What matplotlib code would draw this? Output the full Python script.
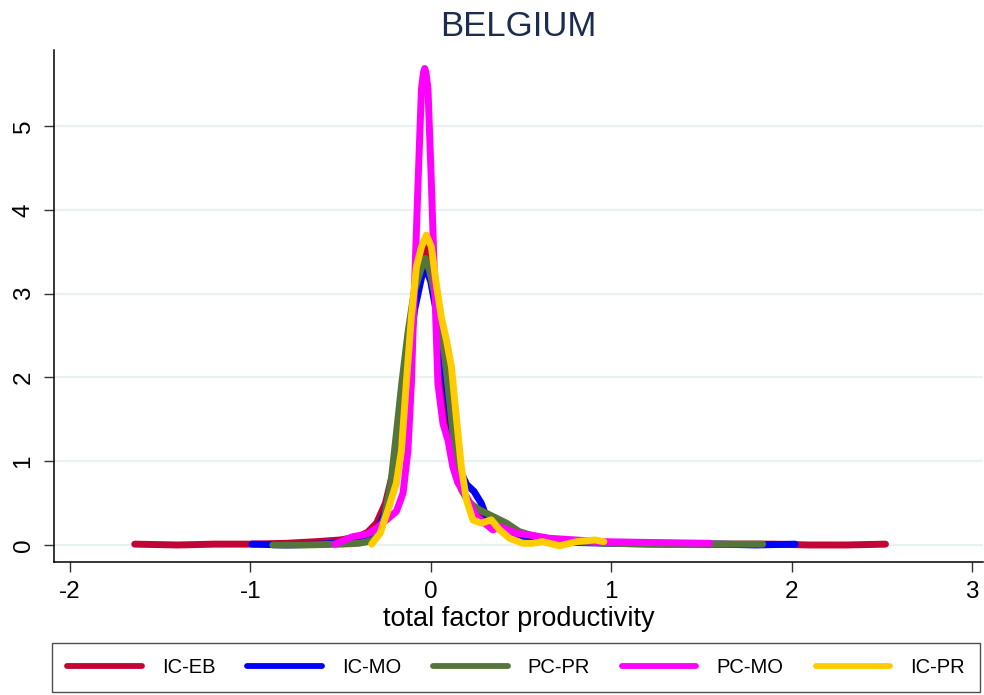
import matplotlib
matplotlib.use("Agg")
import matplotlib.pyplot as plt

plt.rcParams['font.family'] = ['Liberation Sans', 'DejaVu Sans']

# kernel density curves (x = tfp, y = density)
ic_eb_x = [-1.64, -1.4, -1.2, -1.0, -0.8, -0.63, -0.5, -0.4, -0.35, -0.3, -0.25, -0.2, -0.16, -0.12,
           -0.09, -0.05, -0.025, 0.0, 0.03, 0.06, 0.09, 0.12, 0.15, 0.2, 0.25, 0.3, 0.35, 0.42, 0.5,
           0.6, 0.8, 1.0, 1.3, 1.6, 1.9, 2.1, 2.3, 2.52]
ic_eb_y = [0.01, 0.0, 0.01, 0.01, 0.02, 0.04, 0.06, 0.1, 0.15, 0.26, 0.5, 0.95, 1.55, 2.2,
           2.85, 3.4, 3.6, 3.45, 2.95, 2.0, 1.45, 1.1, 0.8, 0.55, 0.42, 0.3, 0.24, 0.16, 0.11,
           0.07, 0.04, 0.03, 0.02, 0.01, 0.01, 0.0, 0.0, 0.01]

ic_mo_x = [-0.99, -0.8, -0.6, -0.45, -0.35, -0.3, -0.25, -0.2, -0.16, -0.12, -0.09, -0.05, -0.03,
           0.0, 0.03, 0.06, 0.09, 0.12, 0.15, 0.2, 0.24, 0.28, 0.31, 0.35, 0.42, 0.5, 0.6, 0.8,
           1.0, 1.3, 1.6, 1.8, 2.02]
ic_mo_y = [0.01, 0.0, 0.01, 0.03, 0.06, 0.15, 0.4, 0.9, 1.5, 2.2, 2.8, 3.2, 3.32,
           3.15, 2.8, 2.35, 1.85, 1.35, 0.95, 0.72, 0.64, 0.5, 0.33, 0.24, 0.16, 0.1, 0.06, 0.03,
           0.02, 0.01, 0.01, 0.0, 0.01]

pc_pr_x = [-0.875, -0.7, -0.5, -0.4, -0.35, -0.32, -0.28, -0.255, -0.22, -0.19, -0.16, -0.126,
           -0.09, -0.05, -0.03, -0.006, 0.022, 0.05, 0.078, 0.105, 0.133, 0.17, 0.216, 0.27,
           0.345, 0.42, 0.49, 0.55, 0.65, 0.8, 1.0, 1.2, 1.5, 1.84]
pc_pr_y = [0.0, 0.0, 0.01, 0.02, 0.04, 0.06, 0.18, 0.34, 0.74, 1.33, 1.93, 2.53,
           3.04, 3.32, 3.42, 3.28, 3.0, 2.65, 2.25, 1.73, 1.13, 0.66, 0.5, 0.42,
           0.34, 0.26, 0.16, 0.12, 0.07, 0.04, 0.02, 0.01, 0.01, 0.01]

pc_mo_x = [-0.53, -0.43, -0.35, -0.3, -0.19, -0.153, -0.126, -0.107, -0.089, -0.07, -0.051, -0.04,
           -0.033, -0.026, -0.015, 0.004, 0.022, 0.04, 0.068, 0.096, 0.123, 0.151, 0.198, 0.253,
           0.345, 0.382, 0.474, 0.548, 0.66, 0.94, 1.21, 1.545]
pc_mo_y = [0.01, 0.1, 0.13, 0.2, 0.4, 0.62, 1.13, 1.93, 3.12, 4.32, 5.45, 5.64,
           5.69, 5.64, 5.45, 4.32, 3.12, 1.93, 1.45, 1.25, 0.93, 0.74, 0.58, 0.34,
           0.18, 0.22, 0.14, 0.12, 0.08, 0.04, 0.03, 0.02]

ic_pr_x = [-0.327, -0.28, -0.236, -0.19, -0.162, -0.135, -0.107, -0.079, -0.051, -0.024, 0.004,
           0.031, 0.059, 0.087, 0.115, 0.142, 0.17, 0.198, 0.234, 0.28, 0.336, 0.382, 0.437,
           0.511, 0.565, 0.62, 0.714, 0.81, 0.91, 0.96]
ic_pr_y = [0.01, 0.14, 0.42, 0.74, 1.13, 1.93, 2.72, 3.32, 3.56, 3.7, 3.56,
           3.12, 2.72, 2.45, 2.13, 1.53, 0.93, 0.54, 0.3, 0.26, 0.3, 0.18, 0.08,
           0.02, 0.02, 0.04, -0.01, 0.04, 0.06, 0.04]

series = [
    ("IC-EB", ic_eb_x, ic_eb_y, "#c10534"),
    ("IC-MO", ic_mo_x, ic_mo_y, "#0000ff"),
    ("PC-PR", pc_pr_x, pc_pr_y, "#55753a"),
    ("PC-MO", pc_mo_x, pc_mo_y, "#ff00ff"),
    ("IC-PR", ic_pr_x, ic_pr_y, "#ffcc00"),
]

x_ticks = [-2, -1, 0, 1, 2, 3]
y_ticks = [0, 1, 2, 3, 4, 5]

fig = plt.figure(figsize=(9.84, 6.95), dpi=100)
ax = fig.add_axes([0.0549, 0.1914, 0.944, 0.7366])

for name, xs, ys, col in series:
    ax.plot(xs, ys, color=col, lw=5, label=name,
            solid_capstyle='round', solid_joinstyle='round')

ax.set_xlim(-2.087, 3.06)
ax.set_ylim(-0.203, 5.91)
ax.set_xticks(x_ticks)
ax.set_yticks(y_ticks)
ax.set_xticklabels([str(v) for v in x_ticks], fontsize=17.5)
ax.set_yticklabels([str(v) for v in y_ticks], fontsize=17.5, rotation=90, va='center')
ax.tick_params(axis='both', length=7, width=1, color='#333333', pad=7)
ax.yaxis.grid(True, color='#eaf1f3', lw=1.6)
ax.set_axisbelow(True)
for s in ['top', 'right']:
    ax.spines[s].set_visible(False)
for s in ['left', 'bottom']:
    ax.spines[s].set_linewidth(1.1)

ax.set_xlabel("total factor productivity", fontsize=19.5, labelpad=2)
ax.set_title("BELGIUM", fontsize=25, color='#1c2b4f', pad=10)

handles, labels = ax.get_legend_handles_labels()
leg = fig.legend(handles, labels, loc='center', ncol=5, mode='expand',
                 bbox_to_anchor=(0.0528, 0.0072, 0.9431, 0.0647),
                 fontsize=14.5, handlelength=3.7, handletextpad=1.0,
                 borderpad=0.75, fancybox=False, frameon=True, borderaxespad=0)
leg.get_frame().set_edgecolor('#222222')
leg.get_frame().set_linewidth(1.0)
for line in leg.get_lines():
    line.set_linewidth(4.2)

fig.savefig("out.png", dpi=100)
